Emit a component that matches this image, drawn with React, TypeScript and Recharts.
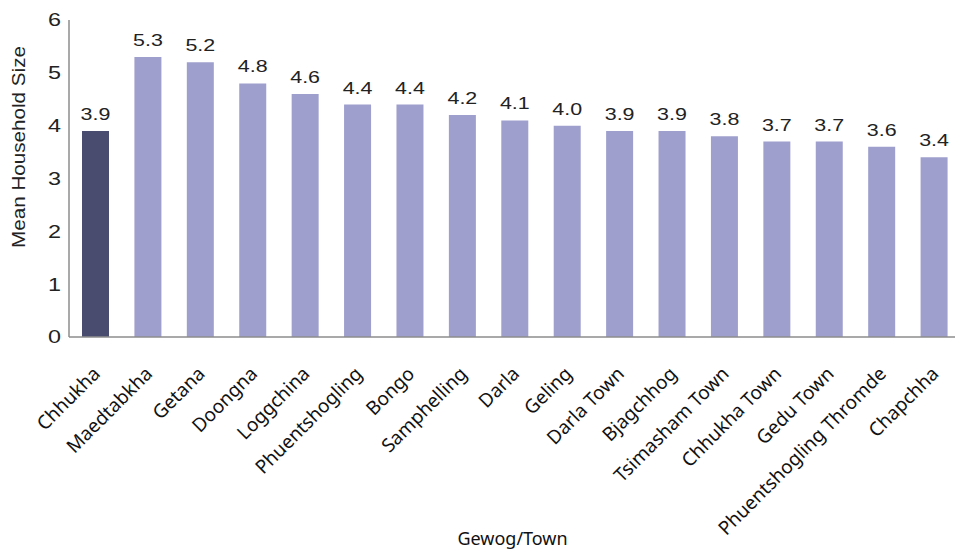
import { Bar, BarChart, Cell, LabelList, XAxis, YAxis } from "recharts";

const categories = [
  "Chhukha",
  "Maedtabkha",
  "Getana",
  "Doongna",
  "Loggchina",
  "Phuentshogling",
  "Bongo",
  "Samphelling",
  "Darla",
  "Geling",
  "Darla Town",
  "Bjagchhog",
  "Tsimasham Town",
  "Chhukha Town",
  "Gedu Town",
  "Phuentshogling Thromde",
  "Chapchha",
];
const householdSize = [3.9, 5.3, 5.2, 4.8, 4.6, 4.4, 4.4, 4.2, 4.1, 4.0, 3.9, 3.9, 3.8, 3.7, 3.7, 3.6, 3.4];
const yTicks = [0, 1, 2, 3, 4, 5, 6];
const highlighted = "Chhukha";

const data = categories.map((name, i) => ({ name, value: householdSize[i] }));

const numFont = "'Liberation Sans', Arial, sans-serif";
const catFont = "'Noto Sans', 'Open Sans', sans-serif";

function CategoryTick({ x, y, payload }: any) {
  const ax = x + 6;
  const ay = y + 38;
  return (
    <text
      x={ax}
      y={ay}
      textAnchor="end"
      transform={`rotate(-45, ${ax}, ${ay})`}
      fontFamily={catFont}
      fontSize={19}
      fill="#111"
    >
      {payload.value}
    </text>
  );
}

function ValueTick({ x, y, payload }: any) {
  return (
    <text
      transform={`translate(${x - 8}, ${y}) scale(1.3, 1)`}
      textAnchor="end"
      dominantBaseline="central"
      fontFamily={numFont}
      fontSize={18}
      fill="#222"
    >
      {payload.value}
    </text>
  );
}

function BarValue({ x, y, width, value }: any) {
  return (
    <text
      transform={`translate(${x + width / 2}, ${y - 11}) scale(1.3, 1)`}
      textAnchor="middle"
      fontFamily={numFont}
      fontSize={16.5}
      fill="#222"
    >
      {Number(value).toFixed(1)}
    </text>
  );
}

export default function App() {
  return (
    <div
      style={{
        position: "absolute",
        left: 0,
        top: 0,
        width: 955,
        height: 551,
        overflow: "hidden",
        background: "#fff",
      }}
    >
      <BarChart
        width={960}
        height={551}
        data={data}
        margin={{ top: 20, right: 0, bottom: 0, left: 0 }}
      >
        <XAxis
          dataKey="name"
          interval={0}
          height={214}
          tickLine={false}
          tickSize={0}
          tickMargin={0}
          axisLine={{ stroke: "#8c8c8c", strokeWidth: 1.5 }}
          tick={<CategoryTick />}
          label={({ viewBox }: any) => (
            <text
              x={viewBox.x + viewBox.width / 2 - 2}
              y={545}
              textAnchor="middle"
              fontFamily={catFont}
              fontSize={18}
              fill="#111"
            >
              Gewog/Town
            </text>
          )}
        />
        <YAxis
          domain={[0, 6]}
          ticks={yTicks}
          width={69}
          tickLine={false}
          tickSize={0}
          tickMargin={0}
          axisLine={{ stroke: "#8c8c8c", strokeWidth: 1.5 }}
          tick={<ValueTick />}
          label={() => (
            <text
              x={25}
              y={147}
              textAnchor="middle"
              transform="rotate(-90, 25, 147)"
              fontFamily={numFont}
              fontSize={18}
              textLength={202}
              lengthAdjust="spacingAndGlyphs"
              fill="#222"
            >
              Mean Household Size
            </text>
          )}
        />
        <Bar dataKey="value" barSize={27} isAnimationActive={false}>
          {data.map((d) => (
            <Cell key={d.name} fill={d.name === highlighted ? "#4a4c6f" : "#9e9fcd"} />
          ))}
          <LabelList dataKey="value" content={<BarValue />} />
        </Bar>
      </BarChart>
    </div>
  );
}
